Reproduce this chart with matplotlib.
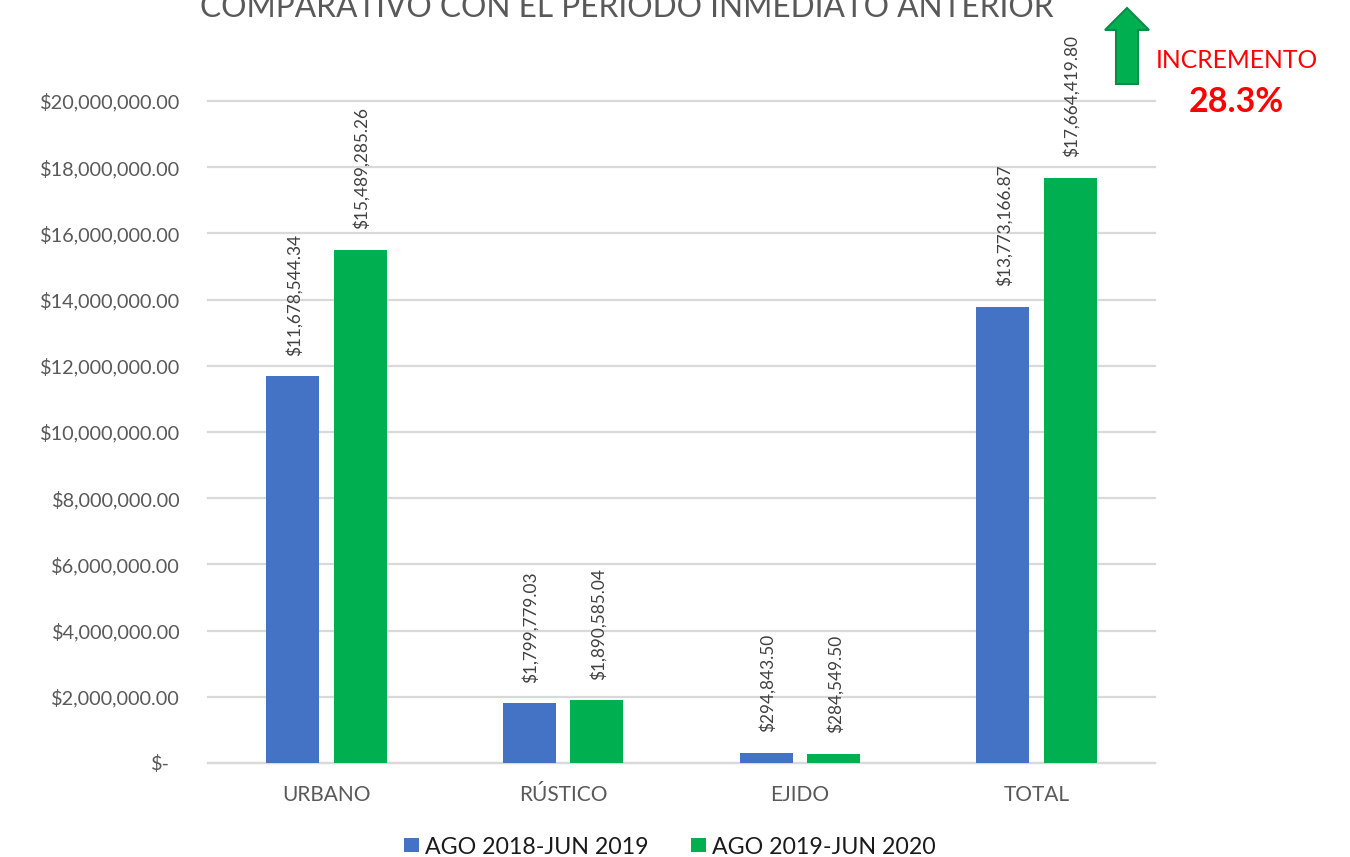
import matplotlib
matplotlib.use("Agg")
import matplotlib.pyplot as plt
from matplotlib.patches import Polygon, Rectangle
from matplotlib.transforms import ScaledTranslation
import numpy as np

plt.rcParams['font.family'] = ['Lato', 'DejaVu Sans']

categories = ["URBANO", "RÚSTICO", "EJIDO", "TOTAL"]
series_names = ["AGO 2018-JUN 2019", "AGO 2019-JUN 2020"]
values_2019 = [11678544.34, 1799779.03, 294843.50, 13773166.87]
values_2020 = [15489285.26, 1890585.04, 284549.50, 17664419.80]
yticks = list(range(0, 20000001, 2000000))
ytick_labels = ["$-"] + [f"${v:,.2f}" for v in yticks[1:]]
title = "COMPARATIVO CON EL PERIODO INMEDIATO ANTERIOR"
BLUE = "#4472C4"
GREEN = "#00B050"
W, H = 1350, 857

fig = plt.figure(figsize=(13.5, 8.57), dpi=100, facecolor="white")
ax = fig.add_axes([208/W, 1-763/H, 947/W, 662/H])
x = np.arange(len(categories))
bw = 0.224
off = 0.1425
ax.bar(x-off, values_2019, bw, color=BLUE, zorder=3)
ax.bar(x+off, values_2020, bw, color=GREEN, zorder=3)
ax.set_xlim(-0.5, 3.5)
ax.set_ylim(0, 20000000)
ax.set_yticks(yticks)
ax.set_yticklabels(ytick_labels)
ax.set_xticks(x)
ax.set_xticklabels(categories)
ax.tick_params(axis='x', length=0, labelcolor="#595959", labelsize=15, pad=16)
ax.tick_params(axis='y', length=0, labelcolor="#595959", labelsize=14.3, pad=20)
lab0 = ax.get_yticklabels()[0]
lab0.set_transform(lab0.get_transform() + ScaledTranslation(-10/100, 0, fig.dpi_scale_trans))
ax.grid(axis='y', color="#D9D9D9", lw=1.6, zorder=0)
for gl in ax.get_ygridlines():
    gl.set_clip_on(False)
ax.set_axisbelow(True)
for s in ['top', 'right', 'left']:
    ax.spines[s].set_visible(False)
ax.spines['bottom'].set_color("#D9D9D9")
ax.spines['bottom'].set_linewidth(1.6)

for xs, vals in ((x-off, values_2019), (x+off, values_2020)):
    for xi, v in zip(xs, vals):
        ax.annotate(f"${v:,.2f}", (xi, v), xytext=(1, 15), textcoords='offset points',
                    rotation=90, ha='center', va='bottom', fontsize=12.4,
                    color="#404040", zorder=5, annotation_clip=False)

fig.text(627/W, 1-17/H, title, ha='center', va='baseline', fontsize=22.8, color="#595959")

arrow = Polygon([(1127, 8), (1149, 30), (1138, 30), (1138, 84), (1116, 84), (1116, 30), (1105, 30)],
                closed=True, facecolor=GREEN, edgecolor="#0B8A48", lw=1.5, zorder=6)
arrow.set_xy(np.array([(px/W, 1-py/H) for px, py in arrow.get_xy()]))
arrow.set_transform(fig.transFigure)
fig.add_artist(arrow)

fig.text(1236.5/W, 1-61/H, "INCREMENTO", ha='center', va='center', fontsize=17.7, color="#FF0000")
fig.text(1236/W, 1-102/H, "28.3%", ha='center', va='center', fontsize=24.5, color="#FF0000", fontweight='bold')

for px, col, name in ((404, BLUE, series_names[0]), (691, GREEN, series_names[1])):
    fig.add_artist(Rectangle((px/W, 1-852/H), 15/W, 14/H, transform=fig.transFigure, facecolor=col, edgecolor='none'))
    fig.text((px+21)/W, 1-847/H, name, ha='left', va='center', fontsize=16.7, color="#1A1A1A")

fig.savefig("out.png", dpi=100, facecolor="white")
